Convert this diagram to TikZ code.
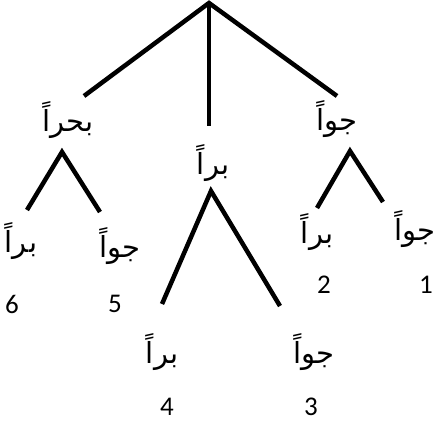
\documentclass[tikz,border=0pt]{standalone}
\usepackage{fontspec}
\setmainfont{Carlito}
\newfontfamily\arabicfont[Script=Arabic]{DejaVu Sans}
\TeXXeTstate=1
\tikzset{
  branch/.style={line width=4.5pt, line cap=butt, black},
  ar/.style={inner sep=0pt, font=\fontsize{29}{31}\selectfont\arabicfont},
  num/.style={inner sep=0pt, font=\fontsize{27}{30}\selectfont}
}
\begin{document}
\begin{tikzpicture}[x=1pt,y=-1pt]
\useasboundingbox[fill=white] (0,0) rectangle (435,423);
% top level
\coordinate (root) at (209,3);
\coordinate (r1) at (84,96);
\coordinate (r2) at (209,126);
\coordinate (r3) at (337,96);
\draw[branch] (r1) -- (root) -- (r3);
\draw[branch] (root) -- (r2);
\node[ar] (bahran) at (68,120) {\beginR بحراً\endR};
\node[ar] (barran) at (213,163) {\beginR براً\endR};
\node[ar] (jawwan) at (337,119) {\beginR جواً\endR};
% left subtree
\coordinate (la) at (62,152);
\coordinate (ll) at (27,210);
\coordinate (lr) at (100,212);
\draw[branch] (ll) -- (la) -- (lr);
% middle subtree
\coordinate (ma) at (211,191);
\coordinate (ml) at (162,304);
\coordinate (mr) at (280,306);
\draw[branch] (ml) -- (ma) -- (mr);
% right subtree
\coordinate (ra) at (350,151);
\coordinate (rl) at (317,208);
\coordinate (rr) at (383,202);
\draw[branch] (rl) -- (ra) -- (rr);
% leaves
\node[ar] (l6) at (21,241) {\beginR براً\endR};
\node[ar] (l5) at (120,246) {\beginR جواً\endR};
\node[num] (n6) at (12,304) {6};
\node[num] (n5) at (115,304) {5};
\node[ar] (l4) at (162,352) {\beginR براً\endR};
\node[ar] (l3) at (314,352) {\beginR جواً\endR};
\node[num] (n4) at (167,407) {4};
\node[num] (n3) at (311,407) {3};
\node[ar] (l2) at (317,232) {\beginR براً\endR};
\node[ar] (l1) at (415,229) {\beginR جواً\endR};
\node[num] (n2) at (324,285) {2};
\node[num] (n1) at (426,285) {1};
\end{tikzpicture}
\end{document}
